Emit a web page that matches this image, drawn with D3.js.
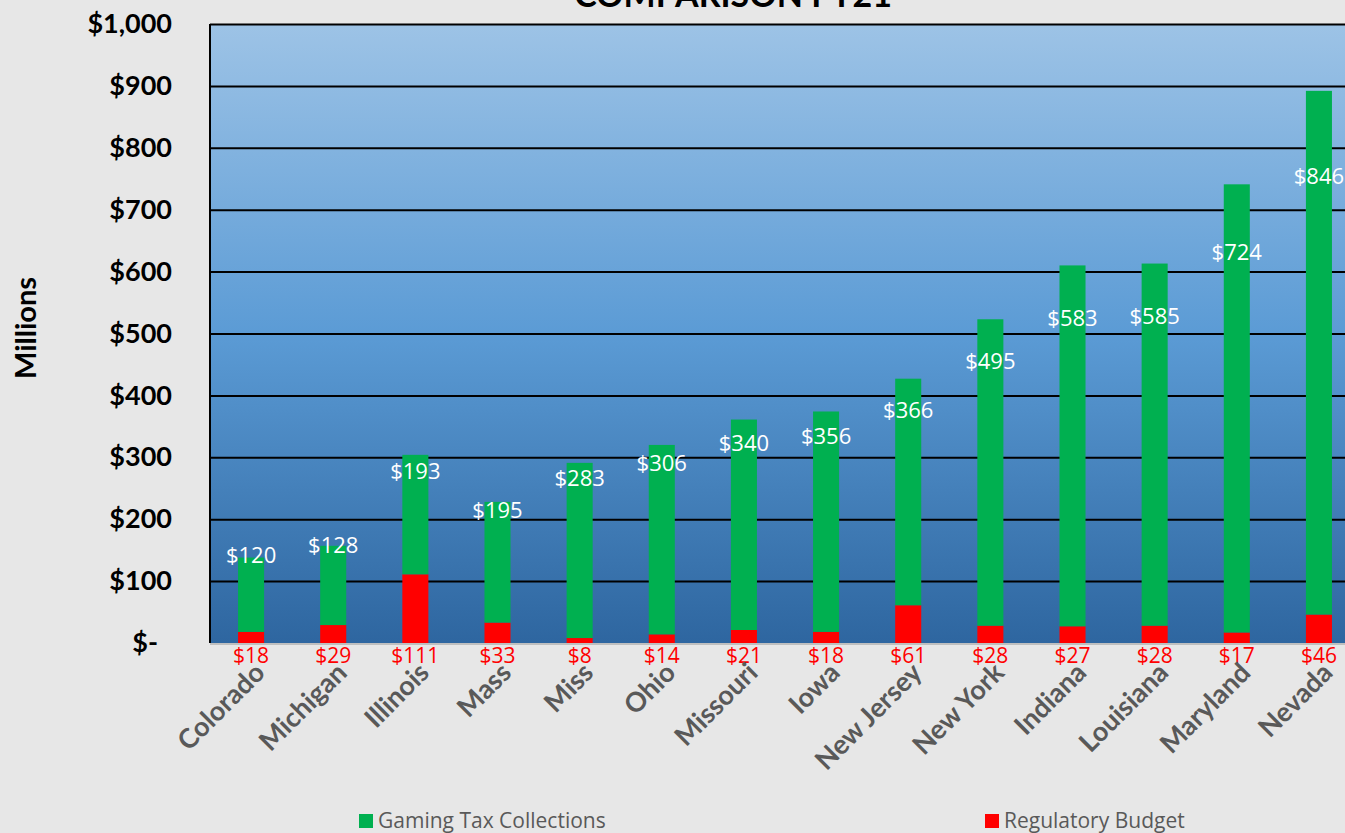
<!DOCTYPE html>
<html>
<head>
<meta charset="utf-8">
<script src="https://cdn.jsdelivr.net/npm/d3@7"></script>
<style>
  html, body { margin: 0; padding: 0; background: #e7e7e7; }
  svg { display: block; font-family: Lato, 'Open Sans', sans-serif; }
</style>
</head>
<body>
<div class="canvas"></div>
<script>
const WIDTH = 1345;
const HEIGHT = 833;
const margin = { top: 24, left: 210, bottom: 190 };
const plotRight = 1360;

// data
const states = ['Colorado', 'Michigan', 'Illinois', 'Mass', 'Miss', 'Ohio', 'Missouri',
  'Iowa', 'New Jersey', 'New York', 'Indiana', 'Louisiana', 'Maryland', 'Nevada'];
const gamingTax = [120, 128, 193, 195, 283, 306, 340, 356, 366, 495, 583, 585, 724, 846];
const regBudget = [18, 29, 111, 33, 8, 14, 21, 18, 61, 28, 27, 28, 17, 46];
const yTicks = [0, 100, 200, 300, 400, 500, 600, 700, 800, 900, 1000];

// colors
const green = '#00b050';
const red = '#ff0000';
const grayText = '#595959';

const svg = d3.select('.canvas')
  .append('svg')
    .attr('width', WIDTH)
    .attr('height', HEIGHT);

const plotBottom = HEIGHT - margin.bottom;

// scales
const x = d3.scaleBand()
  .domain(states)
  .range([margin.left, plotRight]);

const y = d3.scaleLinear()
  .domain([0, 1000])
  .range([plotBottom, margin.top]);

const barW = x.bandwidth() * 0.317;

// background gradient
const defs = svg.append('defs');
const grad = defs.append('linearGradient')
  .attr('id', 'bg')
  .attr('x1', 0).attr('y1', 0).attr('x2', 0).attr('y2', 1);
grad.append('stop').attr('offset', '0%').attr('stop-color', '#9dc3e6');
grad.append('stop').attr('offset', '50%').attr('stop-color', '#5b9bd5');
grad.append('stop').attr('offset', '100%').attr('stop-color', '#2e66a0');

svg.append('rect')
  .attr('x', margin.left)
  .attr('y', margin.top)
  .attr('width', plotRight - margin.left)
  .attr('height', plotBottom - margin.top)
  .attr('fill', 'url(#bg)');

// title (mostly cut off at top, as in the original)
svg.append('text')
  .attr('x', 733)
  .attr('y', 7)
  .attr('text-anchor', 'middle')
  .attr('font-size', 34)
  .attr('font-weight', 'bold')
  .attr('fill', '#000')
  .text('COMPARISON FY21');

// gridlines + y axis labels
const yAxis = d3.axisLeft(y)
  .tickValues(yTicks)
  .tickSize(-(plotRight - margin.left))
  .tickFormat(d => d === 0 ? '$-' : '$' + d3.format(',')(d));

const yAxisGroup = svg.append('g')
  .attr('transform', `translate(${margin.left}, 0)`)
  .call(yAxis);

yAxisGroup.select('.domain').remove();
yAxisGroup.selectAll('line')
  .attr('stroke', d => d === 0 ? 'none' : '#000')
  .attr('stroke-width', 2);
yAxisGroup.selectAll('text')
  .attr('x', -38)
  .attr('dx', d => d === 0 ? -14 : 0)
  .attr('font-size', 27)
  .attr('font-weight', 'bold')
  .attr('font-family', 'Lato, sans-serif')
  .attr('fill', '#000');

// left border and x axis line
svg.append('line')
  .attr('x1', margin.left).attr('x2', margin.left)
  .attr('y1', margin.top).attr('y2', plotBottom)
  .attr('stroke', '#000').attr('stroke-width', 2);

svg.append('line')
  .attr('x1', margin.left).attr('x2', plotRight)
  .attr('y1', plotBottom + 1).attr('y2', plotBottom + 1)
  .attr('stroke', '#bfbfbf').attr('stroke-width', 2);

// bars
const rows = states.map((s, i) => ({ state: s, tax: gamingTax[i], reg: regBudget[i] }));
const bars = svg.append('g');

bars.selectAll('rect.reg')
  .data(rows)
  .enter().append('rect')
    .attr('class', 'reg')
    .attr('x', d => x(d.state) + x.bandwidth() / 2 - barW / 2)
    .attr('width', barW)
    .attr('y', d => y(d.reg))
    .attr('height', d => y(0) - y(d.reg))
    .attr('fill', red);

bars.selectAll('rect.tax')
  .data(rows)
  .enter().append('rect')
    .attr('class', 'tax')
    .attr('x', d => x(d.state) + x.bandwidth() / 2 - barW / 2)
    .attr('width', barW)
    .attr('y', d => y(d.reg + d.tax))
    .attr('height', d => y(d.reg) - y(d.reg + d.tax))
    .attr('fill', green);

// tax labels (sit lower inside the taller stacks)
svg.append('g').selectAll('text')
  .data(rows)
  .enter().append('text')
    .attr('x', d => x(d.state) + x.bandwidth() / 2)
    .attr('y', d => y(0.812 * (d.reg + d.tax) + 30))
    .attr('dy', '0.35em')
    .attr('text-anchor', 'middle')
    .attr('font-size', 22)
    .attr('font-family', "'Open Sans', sans-serif")
    .attr('fill', '#fff')
    .text(d => '$' + d.tax);

// budget labels below axis
svg.append('g').selectAll('text')
  .data(rows)
  .enter().append('text')
    .attr('x', d => x(d.state) + x.bandwidth() / 2)
    .attr('y', plotBottom + 13)
    .attr('dy', '0.35em')
    .attr('text-anchor', 'middle')
    .attr('font-size', 21)
    .attr('font-family', "'Open Sans', sans-serif")
    .attr('fill', red)
    .text(d => '$' + d.reg);

// category labels
svg.append('g').selectAll('text')
  .data(states)
  .enter().append('text')
    .attr('transform', d => `translate(${x(d) + x.bandwidth() / 2 + 2}, ${plotBottom + 18}) rotate(-45)`)
    .attr('text-anchor', 'end')
    .attr('dy', '0.7em')
    .attr('font-size', 27)
    .attr('font-weight', 'bold')
    .attr('fill', grayText)
    .text(d => d);

// y axis title
svg.append('text')
  .attr('transform', 'translate(26, 328) rotate(-90)')
  .attr('text-anchor', 'middle')
  .attr('dy', '0.35em')
  .attr('font-size', 29)
  .attr('font-weight', 'bold')
  .attr('fill', '#000')
  .text('Millions');

// legend
const legend = [
  { name: 'Gaming Tax Collections', color: green, x: 359 },
  { name: 'Regulatory Budget', color: red, x: 985 }
];

const legendItems = svg.append('g').selectAll('g')
  .data(legend)
  .enter().append('g')
    .attr('transform', d => `translate(${d.x}, 814)`);

legendItems.append('rect')
  .attr('width', 14).attr('height', 14)
  .attr('fill', d => d.color);

legendItems.append('text')
  .attr('x', 19)
  .attr('y', 7)
  .attr('dy', '0.35em')
  .attr('font-size', 21)
  .attr('font-family', "'Open Sans', sans-serif")
  .attr('fill', grayText)
  .text(d => d.name);
</script>
</body>
</html>
